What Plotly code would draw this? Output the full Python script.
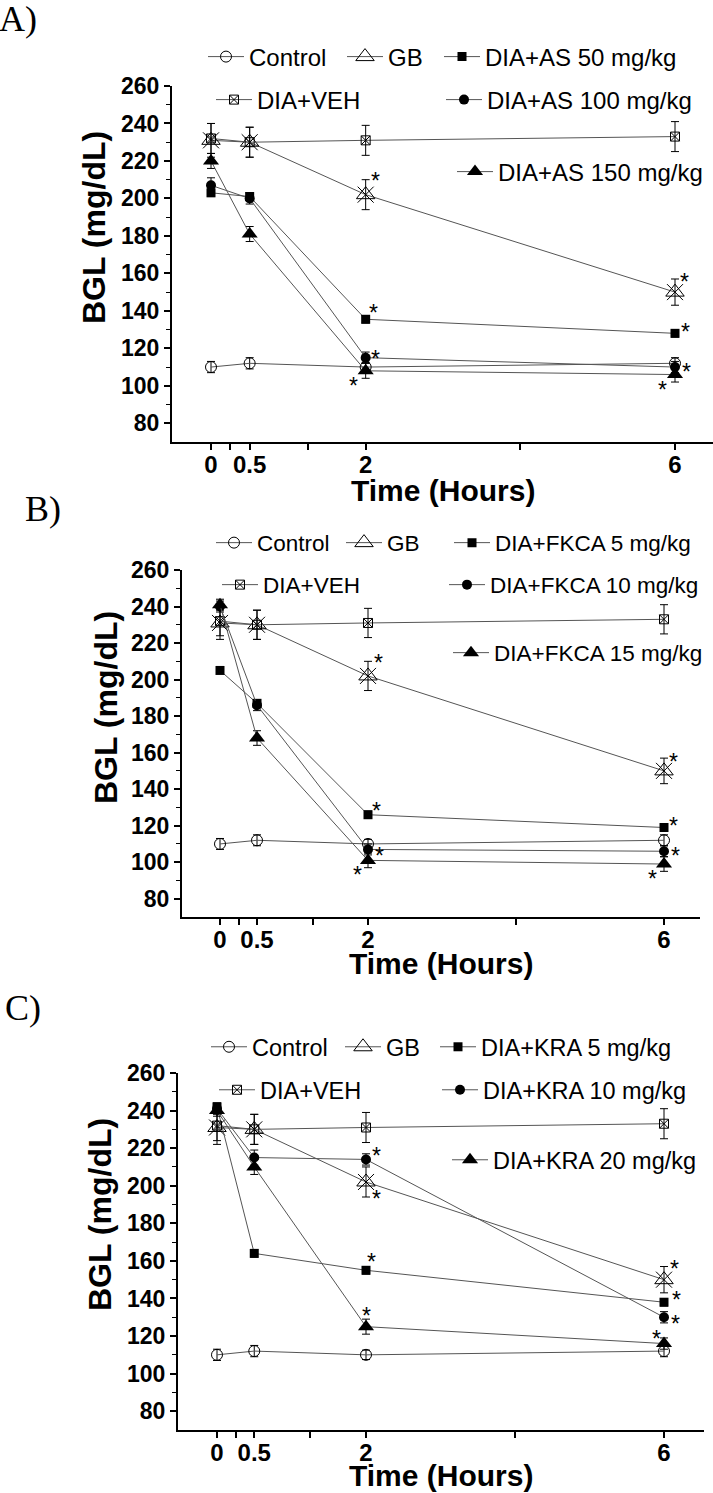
import plotly.graph_objects as go

W, H = 713, 1493

# ---------------- data ----------------
time_h = [0, 0.5, 2, 6]
x_tick_vals = [0, 0.25, 0.5, 1.25, 2, 4, 6]
x_tick_text = ["0", "", "0.5", "", "2", "", "6"]
y_tick_vals = [80, 100, 120, 140, 160, 180, 200, 220, 240, 260]
y_minor_vals = [90, 110, 130, 150, 170, 190, 210, 230, 250]

control = [110, 112, 110, 112]
control_err = [3, 3, 2.5, 3]
gb = [231, 230, 202, 150]
gb_err = [9, 8, 8, 7]
veh = [232, 230, 231, 233]
veh_err = [8, 8, 8, 8]

as50 = [203, 201, 135.5, 128]
as50_err = [2, 2, 2, 2]
as100 = [207, 200, 115, 110]
as100_err = [4, 3, 3, 3]
as150 = [220, 181, 108, 106]
as150_err = [4, 4, 4, 4]

fkca5 = [205, 187, 126, 119]
fkca5_err = [1.5, 2, 2, 2]
fkca10 = [240, 186, 107, 106]
fkca10_err = [3, 3, 3, 3]
fkca15 = [241, 168, 101, 99]
fkca15_err = [3, 4, 4, 4]

kra5 = [242, 164, 155, 138]
kra5_err = [2, 2, 2, 2]
kra10 = [241, 215, 214, 130]
kra10_err = [3, 4, 3, 3]
kra20 = [240, 210, 125, 116]
kra20_err = [3, 4, 4, 3]

panel_labels = ["A)", "B)", "C)"]
drug_names = [
    ["DIA+AS 50 mg/kg", "DIA+AS 100 mg/kg", "DIA+AS 150 mg/kg"],
    ["DIA+FKCA 5 mg/kg", "DIA+FKCA 10 mg/kg", "DIA+FKCA 15 mg/kg"],
    ["DIA+KRA 5 mg/kg", "DIA+KRA 10 mg/kg", "DIA+KRA 20 mg/kg"],
]
drug_values = [
    [(as50, as50_err), (as100, as100_err), (as150, as150_err)],
    [(fkca5, fkca5_err), (fkca10, fkca10_err), (fkca15, fkca15_err)],
    [(kra5, kra5_err), (kra10, kra10_err), (kra20, kra20_err)],
]
# significance stars: (series key, time index) per panel
stars = [
    [("gb", 2), ("gb", 3), ("d0", 2), ("d0", 3), ("d1", 2), ("d1", 3), ("d2", 2), ("d2", 3)],
    [("gb", 2), ("gb", 3), ("d0", 2), ("d0", 3), ("d1", 2), ("d1", 3), ("d2", 2), ("d2", 3)],
    [("d1", 2), ("gb", 2), ("gb", 3), ("d0", 2), ("d0", 3), ("d1", 3), ("d2", 2), ("d2", 3)],
]
# star glyph offsets from the marker centre, in px (right, up)
star_offsets = [
    [(10, 19), (9, 15), (8, 11), (10, 6), (10, 4), (11, 0), (-12, -10), (-13, -10)],
    [(10, 18), (9, 14), (8, 9), (9, 7), (11, -2), (11, 0), (-11, -10), (-12, -10)],
    [(10, 8), (10, -12), (10, 16), (5, 13), (12, 7), (11, -2), (0, 16), (-8, 10)],
]

# ---------------- layout geometry (pixels) ----------------
# leg: (text start x, row centre y)
panels = [
    dict(yax_x=172, x_end=713, x0=211, x6=675, y_top=86, y_bot=442,
         lab=(18, 19), ttl_y=490, bgl=(94, 228), legfont=24,
         leg=[(249, 57), (388, 57), (485, 57), (257, 100), (487, 100), (498, 172)]),
    dict(yax_x=182, x_end=700, x0=220, x6=664, y_top=570, y_bot=917,
         lab=(43, 509), ttl_y=963, bgl=(106, 708), legfont=22.5,
         leg=[(257, 543), (387, 543), (495, 543), (263, 585), (490, 585), (494, 653)]),
    dict(yax_x=178, x_end=704, x0=217, x6=664, y_top=1073, y_bot=1430,
         lab=(23, 1008), ttl_y=None, bgl=(100, 1215), legfont=23.5,
         leg=[(252, 1047), (386, 1047), (481, 1047), (260, 1090), (483, 1090), (493, 1160)]),
]

FONT = "Liberation Sans, Arial, sans-serif"
LINE_COL = "#555555"

fig = go.Figure()
annotations = []
legend_layouts = {}
leg_count = [0]


def new_legend(px, py, size):
    leg_count[0] += 1
    key = "legend" if leg_count[0] == 1 else f"legend{leg_count[0]}"
    legend_layouts[key] = dict(
        x=(px - 46) / W, y=1 - py / H, xanchor="left", yanchor="middle",
        orientation="h", bgcolor="rgba(0,0,0,0)", borderwidth=0,
        font=dict(family=FONT, size=size, color="black"),
        itemsizing="trace", itemwidth=36,
    )
    return key


for i, p in enumerate(panels):
    n = i + 1
    xa = "x" if n == 1 else f"x{n}"
    ya = "y" if n == 1 else f"y{n}"
    xl = "xaxis" if n == 1 else f"xaxis{n}"
    yl = "yaxis" if n == 1 else f"yaxis{n}"

    hr = (p["x6"] - p["x0"]) / 6.0
    xmin = (p["yax_x"] - p["x0"]) / hr
    xmax = (p["x_end"] - p["x0"]) / hr

    series = [
        ("Control", control, control_err, dict(symbol="circle-open", size=11, color="black", line=dict(width=1))),
        ("GB", gb, gb_err, dict(symbol="triangle-up-open", size=16, color="black", line=dict(width=1))),
        (drug_names[i][0], drug_values[i][0][0], drug_values[i][0][1], dict(symbol="square", size=9, color="black")),
        ("DIA+VEH", veh, veh_err, dict(symbol="square-x-open", size=9, color="black", line=dict(width=1))),
        (drug_names[i][1], drug_values[i][1][0], drug_values[i][1][1], dict(symbol="circle", size=10, color="black")),
        (drug_names[i][2], drug_values[i][2][0], drug_values[i][2][1], dict(symbol="triangle-up", size=14, color="black")),
    ]
    keymap = {"gb": gb, "d0": drug_values[i][0][0], "d1": drug_values[i][1][0], "d2": drug_values[i][2][0]}

    for j, (name, vals, errs, mk) in enumerate(series):
        lk = new_legend(p["leg"][j][0], p["leg"][j][1], p["legfont"])
        fig.add_trace(go.Scatter(
            x=time_h, y=vals, name=name, mode="lines+markers",
            line=dict(color=LINE_COL, width=1), marker=mk,
            error_y=dict(type="data", array=errs, visible=True, color="black", thickness=1, width=4),
            xaxis=xa, yaxis=ya, legend=lk, showlegend=True,
        ))
        if name == "GB":
            fig.add_trace(go.Scatter(
                x=time_h, y=vals, mode="markers", showlegend=False, hoverinfo="skip",
                marker=dict(symbol="x-thin-open", size=16, color="black", line=dict(width=1, color="black")),
                xaxis=xa, yaxis=ya,
            ))

    for (key, ti), (dx, up) in zip(stars[i], star_offsets[i]):
        annotations.append(dict(
            x=time_h[ti], y=keymap[key][ti], xref=xa, yref=ya, text="*", showarrow=False,
            xshift=dx, yshift=up - 5, font=dict(family=FONT, size=23, color="black"),
        ))

    fig.update_layout(**{
        xl: dict(domain=[p["yax_x"] / W, p["x_end"] / W], range=[xmin, xmax], anchor=ya,
                 tickmode="array", tickvals=x_tick_vals, ticktext=x_tick_text,
                 ticks="outside", ticklen=6, tickwidth=2, tickcolor="black", ticklabelstandoff=-6,
                 showline=True, linecolor="black", linewidth=2, showgrid=False, zeroline=False,
                 tickfont=dict(family=FONT, size=24, color="black", weight="bold"),
                 automargin=False, fixedrange=True),
        yl: dict(domain=[1 - p["y_bot"] / H, 1 - p["y_top"] / H], range=[70, 260], anchor=xa,
                 tickmode="array", tickvals=y_tick_vals,
                 ticks="outside", ticklen=6, tickwidth=2, tickcolor="black",
                 minor=dict(tickmode="array", tickvals=y_minor_vals,
                            ticks="outside", ticklen=4, tickwidth=1, tickcolor="black"),
                 showline=True, linecolor="black", linewidth=2, showgrid=False, zeroline=False,
                 tickfont=dict(family=FONT, size=23, color="black", weight="bold"),
                 automargin=False, fixedrange=True),
    })

    annotations.append(dict(
        x=p["lab"][0] / W, y=1 - p["lab"][1] / H, xref="paper", yref="paper",
        text=panel_labels[i], showarrow=False, xanchor="center", yanchor="middle",
        font=dict(family="Liberation Serif, Times New Roman, serif", size=36, color="black"),
    ))
    if p["ttl_y"] is None:
        ty, yanc = 0.0, "bottom"
    else:
        ty, yanc = 1 - p["ttl_y"] / H, "middle"
    annotations.append(dict(
        x=(p["yax_x"] + p["x_end"]) / 2 / W, y=ty, xref="paper", yref="paper",
        text="<b>Time (Hours)</b>", showarrow=False, xanchor="center", yanchor=yanc,
        font=dict(family=FONT, size=30, color="black"), borderpad=0,
    ))
    annotations.append(dict(
        x=p["bgl"][0] / W, y=1 - p["bgl"][1] / H, xref="paper", yref="paper",
        text="<b>BGL (mg/dL)</b>", showarrow=False, xanchor="center", yanchor="middle", textangle=-90,
        font=dict(family=FONT, size=32, color="black"),
    ))

fig.update_layout(
    width=W, height=H, margin=dict(l=0, r=0, t=0, b=0),
    paper_bgcolor="white", plot_bgcolor="white",
    annotations=annotations, **legend_layouts,
)

fig.write_html(
    "out.html",
    config={"displayModeBar": False},
    post_script="document.body.style.margin='0';document.body.style.overflow='hidden';",
)
